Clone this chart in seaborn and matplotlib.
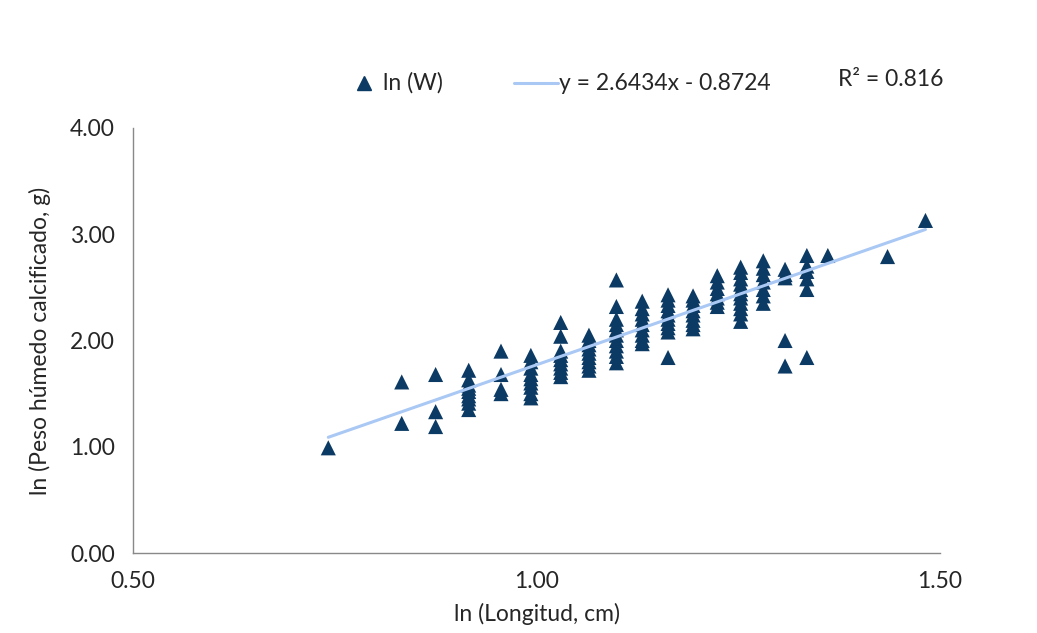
import numpy as np
import pandas as pd
import matplotlib
matplotlib.use("Agg")
import matplotlib.pyplot as plt
from matplotlib.lines import Line2D
import seaborn as sns

# ln(length) columns and the ln(weight) values read at each one
ln_len = [0.742, 0.833, 0.875, 0.916, 0.956, 0.993, 1.030, 1.065, 1.099, 1.131,
          1.163, 1.194, 1.224, 1.253, 1.281, 1.308, 1.335, 1.361, 1.435, 1.482]
ln_w = [
    [0.99],
    [1.61, 1.22],
    [1.68, 1.33, 1.19],
    [1.72, 1.63, 1.58, 1.55, 1.52, 1.48, 1.45, 1.41, 1.35],
    [1.90, 1.68, 1.54, 1.50],
    [1.86, 1.80, 1.74, 1.68, 1.64, 1.60, 1.56, 1.50, 1.46],
    [2.17, 2.04, 1.90, 1.86, 1.82, 1.78, 1.74, 1.70, 1.66],
    [2.05, 2.00, 1.96, 1.92, 1.88, 1.84, 1.80, 1.76, 1.72],
    [2.57, 2.32, 2.20, 2.15, 2.10, 2.05, 2.00, 1.95, 1.90, 1.85, 1.79],
    [2.37, 2.30, 2.25, 2.20, 2.15, 2.10, 2.05, 2.00, 1.97],
    [2.43, 2.38, 2.33, 2.28, 2.24, 2.20, 2.16, 2.12, 2.08, 1.84],
    [2.42, 2.38, 2.33, 2.28, 2.24, 2.19, 2.15, 2.11],
    [2.61, 2.55, 2.49, 2.44, 2.40, 2.36, 2.32],
    [2.69, 2.64, 2.58, 2.53, 2.48, 2.44, 2.40, 2.35, 2.30, 2.25, 2.18],
    [2.75, 2.68, 2.62, 2.55, 2.48, 2.42, 2.35],
    [2.67, 2.62, 2.59, 2.00, 1.76],
    [2.80, 2.70, 2.65, 2.58, 2.48, 1.84],
    [2.80],
    [2.79],
    [3.13],
]

# trendline as printed on the chart
slope = 2.6434
intercept = -0.8724
r2 = 0.816

xticks = [0.50, 1.00, 1.50]
yticks = [0.00, 1.00, 2.00, 3.00, 4.00]

rows = []
for x, ys in zip(ln_len, ln_w):
    for y in ys:
        rows.append({"ln_len": x, "ln_w": y})
df = pd.DataFrame(rows)

sns.set_style("white")
plt.rcParams["font.family"] = ["Lato", "DejaVu Sans"]
fs = 16.5

W, H = 1037, 633
fig = plt.figure(figsize=(W / 100, H / 100), dpi=100)
ax = fig.add_axes([133 / W, 1 - 553 / H, (940 - 133) / W, (553 - 128) / H])

navy = "#0b3a64"
light = "#aac8f4"
sns.scatterplot(data=df, x="ln_len", y="ln_w", marker="^", s=118, color=navy,
                edgecolor="none", ax=ax, legend=False, zorder=2)

xl = np.array([min(ln_len), max(ln_len)])
trend = pd.DataFrame({"x": xl, "y": slope * xl + intercept})
sns.lineplot(data=trend, x="x", y="y", color=light, linewidth=2.2, ax=ax,
             legend=False, zorder=3)

ax.set_xlim(0.5, 1.5)
ax.set_ylim(0, 4)
ax.set_xticks(xticks)
ax.set_yticks(yticks)
ax.set_xticklabels([f"{t:.2f}" for t in xticks], fontsize=fs)
ax.set_yticklabels([f"{t:.2f}" for t in yticks], fontsize=fs)
ax.tick_params(length=0, pad=13)
ax.set_xlabel("ln (Longitud, cm)", fontsize=fs, labelpad=8)
ax.set_ylabel("ln (Peso húmedo calcificado, g)", fontsize=fs, labelpad=14)
for side in ["top", "right"]:
    ax.spines[side].set_visible(False)
for side in ["left", "bottom"]:
    ax.spines[side].set_color("#898989")
    ax.spines[side].set_linewidth(1)

# legend row above the plot
ly = 1 - 83 / H
fig.add_artist(Line2D([364 / W], [ly], marker="^", color=navy, markersize=10,
                      linestyle="none", transform=fig.transFigure))
fig.text(383 / W, ly, "ln (W)", fontsize=fs, va="center")
fig.add_artist(Line2D([514 / W, 558 / W], [ly, ly], color=light, linewidth=2.2,
                      transform=fig.transFigure))
fig.text(559 / W, ly, f"y = {slope}x - {abs(intercept)}", fontsize=fs, va="center")
fig.text(838 / W, 1 - 80 / H, f"R² = {r2}", fontsize=fs, va="center")

fig.savefig("out.png", dpi=100)
